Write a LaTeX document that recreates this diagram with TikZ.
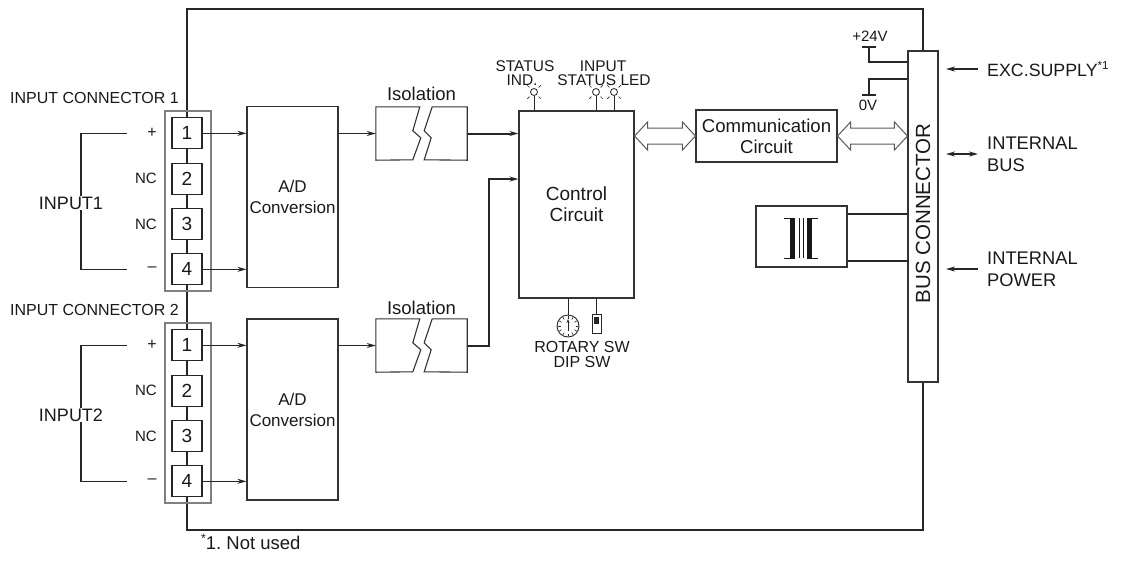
\documentclass[tikz,border=0pt]{standalone}
\usepackage{fontspec}
\setmainfont{Liberation Sans}
\usetikzlibrary{arrows.meta,calc}
\usetikzlibrary{positioning}

\newcommand{\fsz}[2]{\fontsize{#1}{#2}\selectfont}
\newcommand{\fatarrow}[2]{%
  \draw[fat] let \p1=#1, \p2=#2 in
    (\x1,\y1) -- (\x1+13pt,\y1+14pt) -- (\x1+13pt,\y1+8pt) -- (\x2-13pt,\y1+8pt)
    -- (\x2-13pt,\y1+14pt) -- (\x2,\y1) -- (\x2-13pt,\y1-14pt) -- (\x2-13pt,\y1-8pt)
    -- (\x1+13pt,\y1-8pt) -- (\x1+13pt,\y1-14pt) -- cycle;}
\newcommand{\notemark}[1]{\raisebox{0.35em}{\fontsize{0.65em}{1em}\selectfont #1}}

\begin{document}
\frenchspacing
\begin{tikzpicture}[x=1pt,y=-1pt,
  every node/.style={text=black!90, inner sep=0pt},
  blk/.style={draw=black!80, line width=1.1pt, align=center},
  term/.style={draw=black!85, line width=1.1pt, fill=white, minimum width=30pt, minimum height=31pt, font=\fsz{19}{19}},
  conn/.style={draw=black!50, line width=1.6pt, minimum width=46pt, minimum height=180pt},
  wire/.style={draw=black!85, line width=1.3pt},
  arr/.style={wire, -{Stealth[length=9pt,width=5pt]}},
  barr/.style={arr, line width=2pt},
  lbl/.style={font=\fsz{16}{17}},
  led/.style={font=\fsz{15.5}{15.5}},
  fat/.style={draw=black!65, line width=1pt, fill=white}]
\useasboundingbox (0,0) rectangle (1125,566);

% module frame
\node[blk, minimum width=30pt, minimum height=331pt] (bus) at (923,216.5) {};
\node[rotate=90, font=\fsz{20.5}{20.5}] (bust) at ([yshift=3pt]bus.center) {BUS CONNECTOR};
\draw[wire, line width=1.2pt] (bus.north) |- (187,9) -- (187,530) -| (bus.south);

% input connectors
\node[conn] (c1) at (188,201) {};
\node[conn] (c2) at (188,413) {};
\foreach \i in {1,...,4} {
  \node[term] (a\i) at (187,88+45.33*\i) {\i};
  \node[term] (b\i) at (187,300+45.33*\i) {\i};
}
\node[lbl, anchor=west] (l1) at (10,98) {INPUT CONNECTOR 1};
\node[lbl, anchor=west] (l2) at (10,310) {INPUT CONNECTOR 2};

\foreach \c/\o in {1/0,2/212} {
  \node[lbl] (pl\c) at (152,133+\o) {+};
  \node[font=\fsz{15}{15}] (nca\c) at (146,178.5+\o) {NC};
  \node[font=\fsz{15}{15}] (ncb\c) at (146,224+\o) {NC};
  \node[lbl] (mi\c) at (152,269.5+\o) {–};
  \coordinate (s\c) at (127,133.3+\o);
  \coordinate (e\c) at (127,269.3+\o);
  \draw[wire, line width=1.6pt] (s\c) -| (81,269.3+\o) -- (e\c);
  \node[fill=white, font=\fsz{18}{18}, inner sep=1pt] (in\c) at (71,203+\o) {INPUT\c};
}

% A/D
\node[blk, minimum width=91pt, minimum height=181pt, font=\fsz{17}{21}] (ad1) at (292.5,197) {A/D\\Conversion};
\node[blk, minimum width=91pt, minimum height=181pt, font=\fsz{17}{21}] (ad2) at (292.5,409.5) {A/D\\Conversion};
\draw[arr] (a1.east) -- (a1.east -| ad1.west);
\draw[arr] (a4.east) -- (a4.east -| ad1.west);
\draw[arr] (b1.east) -- (b1.east -| ad2.west);
\draw[arr] (b4.east) -- (b4.east -| ad2.west);

% isolation
\node[minimum width=91pt, minimum height=53pt] (iso1) at (421.5,133.5) {};
\node[minimum width=91pt, minimum height=53pt] (iso2) at (421.5,345.5) {};
\node[font=\fsz{18.5}{18.5}, above=6pt of iso1] (isol1) {Isolation};
\node[font=\fsz{18.5}{18.5}, above=3.5pt of iso2] (isol2) {Isolation};
\foreach \n in {iso1,iso2} {
  \draw[blk] (\n.north west) -- ++(44,0) -- ++(-7,24) -- ++(8,7) -- ++(-8,22) -- (\n.south west) -- cycle;
  \draw[blk] (\n.north east) -- ++(-35,0) -- ++(-8,24) -- ++(7,7) -- ++(-7,22) -- (\n.south east) -- cycle;
}
\draw[arr] (ad1.east |- iso1.west) -- (iso1.west);
\draw[arr] (ad2.east |- iso2.west) -- (iso2.west);

% control
\node[blk, minimum width=115pt, minimum height=187pt, font=\fsz{19}{21}] (ctrl) at (576.5,204.5) {Control\\Circuit};
\draw[barr] (iso1.east) -- (iso1.east -| ctrl.west);
\draw[barr] (iso2.east) -- ++(22,0) |- ([yshift=25.5pt]ctrl.west);

% LEDs
\foreach \n/\x in {s/534, i1/596, i2/614} {
  \node[circle, draw=black!85, line width=0.8pt, minimum size=7pt] (led\n) at (\x,92) {};
  \draw[wire, line width=1pt] (led\n.south) -- (led\n.south |- ctrl.north);
  \foreach \a in {45,135,-45,-135} \draw[line width=0.7pt, black!85] (led\n.center) ++(\a:6.5) -- ++(\a:3);
}
\node[led] (st1) at (525,66.5) {STATUS};
\node[led] (st2) at (522,80) {IND.};
\node[led] (in1) at (603,66.5) {INPUT};
\node[led] (in2) at (604,80) {STATUS LED};

% switches
\node[circle, draw=black!85, line width=0.9pt, minimum size=22pt] (rot) at (568,326) {};
\draw[wire, line width=1pt] (rot.north |- ctrl.south) -- (rot.north);
\foreach \a in {0,30,...,330} \draw[line width=0.6pt, black!85] (rot.center) ++(\a:7.5) -- ++(\a:2.5);
\draw[line width=0.8pt, black!85, -{Stealth[length=4pt,width=3pt]}] ([yshift=-5pt]rot.center) -- ([yshift=7pt]rot.center);
\node[draw=black!85, line width=0.9pt, minimum width=9pt, minimum height=19pt] (dip) at (596.5,323.5) {};
\fill[black!85] ([xshift=-2.5pt,yshift=-3pt]dip.north) rectangle ([xshift=2.5pt,yshift=-10pt]dip.north);
\draw[wire, line width=1pt] (dip.north |- ctrl.south) -- (dip.north);
\node[align=center, font=\fsz{16}{15.5}] (rsw) at (582,354.5) {ROTARY SW\\DIP SW};

% communication
\node[blk, minimum width=141pt, minimum height=52pt, font=\fsz{18.6}{21}] (comm) at (766.5,136) {Communication\\Circuit};
\fatarrow{(ctrl.east |- comm.west)}{(comm.west)}
\fatarrow{(comm.east)}{(comm.east -| bus.west)}

% supply
\coordinate (v24) at (869,47);
\coordinate (v0) at (869,95);
\draw[wire] ([xshift=-7pt]v24) -- ([xshift=7pt]v24);
\draw[wire] ([xshift=-7pt]v0) -- ([xshift=7pt]v0);
\draw[wire] (v24) |- ([yshift=154.5pt]bus.west);
\draw[wire] (v0) |- ([yshift=137.5pt]bus.west);
\node[font=\fsz{15}{15}] (p24) at (870,36) {+24V};
\node[font=\fsz{15}{15}] (p0) at (868,105) {0V};

% transformer
\node[blk, minimum width=91pt, minimum height=61pt] (tr) at (801.5,236.5) {};
\coordinate (tr1) at ([yshift=22.5pt]tr.east);
\coordinate (tr2) at ([yshift=-24.5pt]tr.east);
\draw[wire] (tr1) -- (tr1 -| bus.west);
\draw[wire] (tr2) -- (tr2 -| bus.west);
\fill[black!90] (790,218) rectangle (795,258);
\fill[black!90] (807,218) rectangle (812,258);
\draw[line width=0.9pt, black!90] (784,218) -- (795,218) (784,258) -- (795,258)
  (807,218) -- (818,218) (807,258) -- (818,258) (799,218) -- (799,258) (803,218) -- (803,258);

% outside labels
\node[font=\fsz{17.8}{17.8}, anchor=west] (exc) at (987,69) {EXC.SUPPLY\notemark{*1}};
\draw[arr] ([xshift=-9pt]exc.west) -- ++(-32,0);
\node[font=\fsz{18.3}{22}, align=left, anchor=west] (ibus) at (987,154) {INTERNAL\\BUS};
\draw[wire, {Stealth[length=9pt,width=5pt]}-{Stealth[length=9pt,width=5pt]}] ([xshift=-9pt]ibus.west) -- ++(-32,0);
\node[font=\fsz{18.3}{22}, align=left, anchor=west] (ipow) at (987,269) {INTERNAL\\POWER};
\draw[arr] ([xshift=-9pt]ipow.west) -- ++(-32,0);
\node[font=\fsz{18.5}{18.5}, anchor=west] (fn) at (201,542) {\notemark{*}1. Not used};
\end{tikzpicture}
\end{document}
